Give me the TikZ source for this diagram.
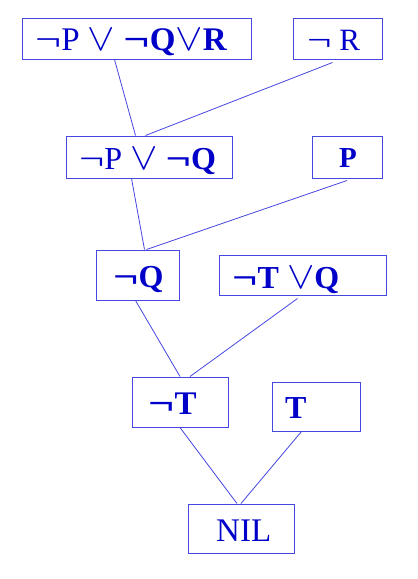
\documentclass[tikz,border=0pt]{standalone}
\usepackage{fontspec}
\setmainfont{Liberation Serif}
\usepackage{graphicx}
\usetikzlibrary{calc}
\definecolor{boxc}{RGB}{70,70,225}
\definecolor{txtc}{RGB}{0,0,200}
\newcommand{\Ng}{\scalebox{1.4}[1]{¬}}
\newcommand{\Vv}{\scalebox{1.65}[1.55]{$\vee$}}
\newcommand{\fs}[1]{\fontsize{#1}{#1}\selectfont}
\begin{document}
\begin{tikzpicture}[x=1pt,y=-1pt,
  box/.style={draw=boxc, line width=1pt, inner sep=0pt, rectangle},
  txt/.style={text=txtc, anchor=base west, inner sep=0pt},
  edge/.style={draw=boxc, line width=0.8pt}]
\useasboundingbox (0,0) rectangle (418,579);
\node[box, minimum width=229, minimum height=41] (b1) at (136.5,38.5) {};
\node[box, minimum width=89, minimum height=41] (bR) at (337.5,38.5) {};
\node[box, minimum width=166, minimum height=42] (b2) at (149,157) {};
\node[box, minimum width=70, minimum height=42] (bP) at (347,157) {};
\node[box, minimum width=83, minimum height=50] (bQ) at (137.5,275) {};
\node[box, minimum width=167, minimum height=40] (bTQ) at (302.5,275) {};
\node[box, minimum width=96, minimum height=50] (bT) at (180,402) {};
\node[box, minimum width=88, minimum height=49] (bTT) at (316,406.5) {};
\node[box, minimum width=106, minimum height=49] (bN) at (241,528.5) {};

\node[txt] (t1) at (35,50) {\fs{33}\Ng P \Vv\ \textbf{\Ng Q}\Vv\textbf{R}};
\node[txt] (tR) at (307,50) {\fs{31}\Ng\ R};
\node[txt] (t2) at (79,169) {\fs{32}\Ng P \Vv\ \textbf{\Ng Q}};
\node[txt] (tP) at (339,167) {\fs{29}\textbf{P}};
\node[txt] (tQ) at (113,287) {\fs{32}\textbf{\Ng Q}};
\node[txt] (tTQ) at (232,288) {\fs{32}\textbf{\Ng T} \Vv\textbf{Q}};
\node[txt] (tT) at (148,414) {\fs{33}\textbf{\Ng T}};
\node[txt] (tTT) at (285,418) {\fs{32}\textbf{T}};
\node[txt] (tN) at (216,541) {\fs{33}NIL};

\coordinate (cR) at ($(bR.south west)+(40,3)$);
\coordinate (cP) at ($(bP.south)+(0,2)$);
\coordinate (cTQ) at ($(bTQ.south west)+(79,3)$);

\draw[edge] ($(b1.south west)+(93,0)$) -- ($(b2.north west)+(70,0)$);
\draw[edge] (cR) -- ($(b2.north west)+(80,0)$);
\draw[edge] ($(b2.south west)+(66,0)$) -- ($(bQ.north west)+(49,0)$);
\draw[edge] (cP) -- ($(bQ.north west)+(51,0)$);
\draw[edge] ($(bQ.south west)+(40,0)$) -- (bT.north);
\draw[edge] (cTQ) -- ($(bT.north)+(10,0)$);
\draw[edge] (bT.south) -- ($(bN.north)+(-4,0)$);
\draw[edge] ($(bTT.south west)+(30,0)$) -- (bN.north);
\end{tikzpicture}
\end{document}
